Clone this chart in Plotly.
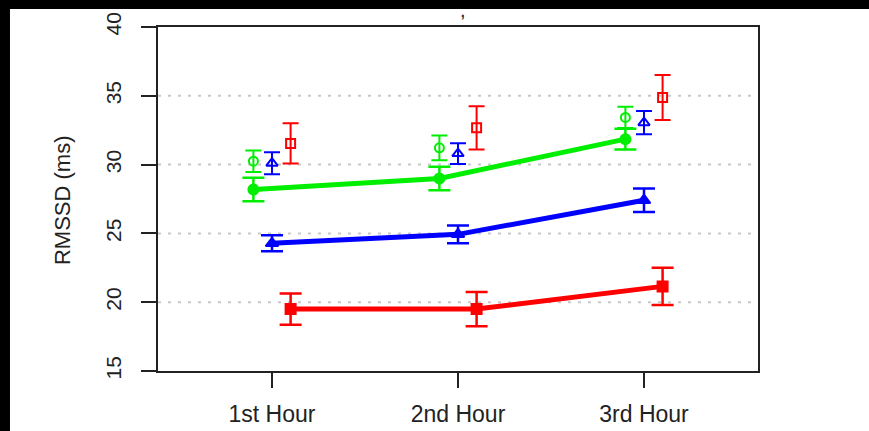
import plotly.graph_objects as go

hours = ["1st Hour", "2nd Hour", "3rd Hour"]
xpos = [1, 2, 3]

# filled (solid line) series
green_mean = [28.19, 28.99, 31.85]
green_err = [0.85, 0.86, 0.75]
blue_mean = [24.28, 24.93, 27.41]
blue_err = [0.58, 0.65, 0.85]
red_mean = [19.5, 19.5, 21.15]
red_err = [1.13, 1.25, 1.35]

# open-marker series
green_open = [30.25, 31.22, 33.43]
green_open_err = [0.78, 0.9, 0.77]
blue_open = [30.1, 30.8, 33.05]
blue_open_err = [0.8, 0.75, 0.85]
red_open = [31.54, 32.67, 34.88]
red_open_err = [1.46, 1.57, 1.63]

GREEN = "#00ee00"
BLUE = "#0000ff"
RED = "#ff0000"
offset = {"g": -0.1, "b": 0.0, "r": 0.1}

fig = go.Figure()

def add_series(x_off, y, err, color, symbol, size, mode, lw, capw, ew):
    fig.add_trace(go.Scatter(
        x=[v + x_off for v in xpos], y=y, mode=mode,
        line=dict(color=color, width=lw),
        marker=dict(symbol=symbol, size=size, color=color,
                    line=dict(color=color, width=2)),
        error_y=dict(type="data", array=err, visible=True, color=color,
                     thickness=ew, width=capw),
        showlegend=False, cliponaxis=False))

add_series(offset["g"], green_mean, green_err, GREEN, "circle", 10, "lines+markers", 5, 11, 2.5)
add_series(offset["b"], blue_mean, blue_err, BLUE, "triangle-up", 11, "lines+markers", 5, 11, 2.5)
add_series(offset["r"], red_mean, red_err, RED, "square", 10, "lines+markers", 5, 11, 2.5)
add_series(offset["g"], green_open, green_open_err, GREEN, "circle-open", 9, "markers", 0, 8, 2)
add_series(offset["b"], blue_open, blue_open_err, BLUE, "triangle-up-open", 10, "markers", 0, 8, 2)
add_series(offset["r"], red_open, red_open_err, RED, "square-open", 9, "markers", 0, 8, 2)

FAM = "Liberation Sans, Arial, sans-serif"
xfont = dict(family=FAM, size=23, color="#222222")
yfont = dict(family=FAM, size=21, color="#222222")
tfont = dict(family=FAM, size=22, color="#222222")

fig.update_layout(
    width=869, height=431,
    margin=dict(l=158, r=111, t=27, b=60, autoexpand=False),
    paper_bgcolor="white", plot_bgcolor="white",
    font=yfont,
    xaxis=dict(range=[0.387, 3.613], tickmode="array", tickvals=xpos, ticktext=hours,
               showgrid=False, zeroline=False, showline=True, linecolor="#222222",
               linewidth=2, mirror=True, ticks="outside", ticklen=15, tickwidth=2,
               tickcolor="#222222", ticklabelstandoff=6, tickfont=xfont, automargin=False),
    yaxis=dict(range=[15, 40], tickmode="array", tickvals=[15, 20, 25, 30, 35, 40],
               showgrid=False, zeroline=False, showline=True, linecolor="#222222",
               linewidth=2, mirror=True, ticks="outside", ticklen=15, tickwidth=2,
               tickcolor="#222222", tickangle=-90, ticklabelstandoff=12, tickfont=yfont,
               automargin=False),
)

# dotted horizontal reference lines
for gv in [20, 25, 30, 35]:
    fig.add_shape(type="line", xref="paper", yref="y", x0=0, x1=1, y0=gv, y1=gv,
                  line=dict(color="#c8c8c8", width=2, dash="3px,7px"), layer="below")

fig.add_annotation(text="RMSSD (ms)", xref="paper", yref="paper", x=-0.16, y=0.497,
                   textangle=-90, showarrow=False, font=tfont, xanchor="center", yanchor="middle")

# black frame remnants of the screenshot
fig.add_shape(type="rect", xref="paper", yref="paper", x0=-0.27, x1=1.19,
              y0=1.0523, y1=1.09, fillcolor="black", line=dict(width=0), layer="above")
fig.add_shape(type="rect", xref="paper", yref="paper", x0=-0.27, x1=-0.2467,
              y0=-0.19, y1=1.09, fillcolor="black", line=dict(width=0), layer="above")
fig.add_annotation(text=",", xref="paper", yref="paper", x=0.508, y=1.05,
                   showarrow=False, font=dict(family=FAM, size=20, color="#222222"),
                   xanchor="center", yanchor="middle")

fig.write_html("out.html", config={"displayModeBar": False},
               post_script="document.body.style.margin='0';document.body.style.overflow='hidden';")
